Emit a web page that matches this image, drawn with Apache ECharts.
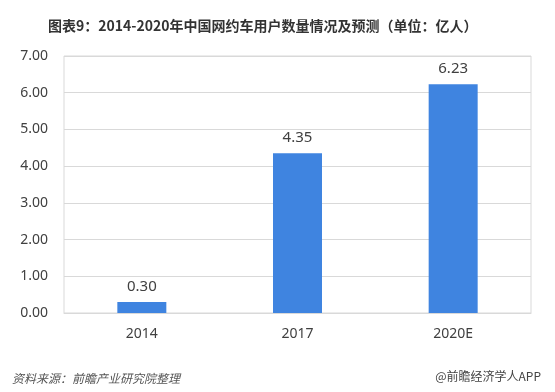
<!DOCTYPE html>
<html><head><meta charset="utf-8">
<script src="https://cdn.jsdelivr.net/npm/echarts@6/dist/echarts.min.js"></script>
<style>html,body{margin:0;padding:0;background:#fff;}#c{width:555px;height:392px;}</style>
</head><body><div id="c"></div>
<script>
var categories = ['2014', '2017', '2020E'];
var values = [0.30, 4.35, 6.23];
var yTicks = [0, 1, 2, 3, 4, 5, 6, 7];

var chart = echarts.init(document.getElementById('c'), null, {renderer: 'canvas'});
chart.setOption({
  backgroundColor: '#fff',
  animation: false,
  title: [{
    text: '图表9：2014-2020年中国网约车用户数量情况及预测（单位：亿人）',
    left: 43, top: 14,
    textStyle: {fontSize: 14, fontWeight: 'bold', color: '#333', fontFamily: 'Noto Sans CJK SC'}
  }, {
    text: '资料来源：前瞻产业研究院整理',
    left: 7, top: 367,
    textStyle: {fontSize: 12, fontWeight: 'normal', fontStyle: 'italic', color: '#555', fontFamily: 'Noto Sans CJK SC'}
  }, {
    text: '@前瞻经济学人APP',
    right: 9, top: 365,
    textStyle: {fontSize: 12, fontWeight: 'normal', color: '#444', fontFamily: 'Noto Sans CJK SC'}
  }],
  grid: {left: 64, right: 24, top: 56, bottom: 79, show: true, borderColor: '#d9d9d9', borderWidth: 1},
  xAxis: {
    type: 'category', data: categories,
    axisLine: {lineStyle: {color: '#d9d9d9'}},
    axisTick: {show: false},
    axisLabel: {fontSize: 14, color: '#404040', margin: 14, fontFamily: 'Noto Sans'}
  },
  yAxis: {
    type: 'value', min: yTicks[0], max: yTicks[yTicks.length - 1], interval: 1,
    axisLine: {show: false}, axisTick: {show: false},
    splitLine: {lineStyle: {color: '#d9d9d9'}},
    axisLabel: {fontSize: 14, color: '#404040', margin: 16, fontFamily: 'Noto Sans',
      formatter: function (v) { return v.toFixed(2); }}
  },
  series: [{
    type: 'bar', data: values, barWidth: 49,
    itemStyle: {color: '#3F84E0'},
    label: {show: true, position: 'top', distance: 8, fontSize: 15, color: '#404040', fontFamily: 'Noto Sans',
      formatter: function (p) { return p.value.toFixed(2); }}
  }]
});
</script></body></html>
